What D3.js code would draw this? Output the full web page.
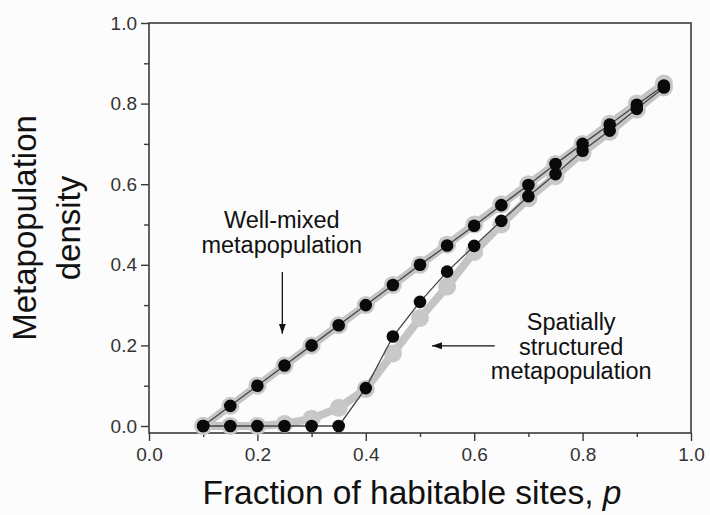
<!DOCTYPE html>
<html>
<head>
<meta charset="utf-8">
<script src="https://cdn.jsdelivr.net/npm/d3@7"></script>
<style>
  html, body { margin: 0; padding: 0; background: #fcfcfc; }
  svg { display: block; }
  text { font-family: "Liberation Sans", Arial, Helvetica, sans-serif; }
</style>
</head>
<body>
<svg id="chart" width="710" height="515"></svg>
<script>
// ---- data ----
const fraction = [0.10, 0.15, 0.20, 0.25, 0.30, 0.35, 0.40, 0.45, 0.50, 0.55, 0.60, 0.65, 0.70, 0.75, 0.80, 0.85, 0.90, 0.95];
const wellMixedSim   = [0.00, 0.05, 0.10, 0.15, 0.20, 0.25, 0.30, 0.35, 0.40, 0.448, 0.497, 0.548, 0.598, 0.650, 0.700, 0.748, 0.797, 0.845];
const wellMixedModel = [0.00, 0.05, 0.10, 0.15, 0.20, 0.25, 0.30, 0.35, 0.40, 0.45, 0.50, 0.55, 0.60, 0.65, 0.70, 0.75, 0.80, 0.85];
const spatialSim     = [0.00, 0.00, 0.00, 0.00, 0.00, 0.00, 0.094, 0.222, 0.308, 0.383, 0.447, 0.509, 0.570, 0.625, 0.683, 0.733, 0.787, 0.840];
const spatialModel   = [0.00, 0.00, 0.00, 0.005, 0.018, 0.045, 0.092, 0.180, 0.268, 0.346, 0.432, 0.500, 0.565, 0.620, 0.678, 0.730, 0.785, 0.840];
const xTicks = [0.0, 0.2, 0.4, 0.6, 0.8, 1.0];
const yTicks = [0.0, 0.2, 0.4, 0.6, 0.8, 1.0];
const xMinor = [0.1, 0.3, 0.5, 0.7, 0.9];
const yMinor = [0.1, 0.3, 0.5, 0.7, 0.9];
const xTitle = "Fraction of habitable sites, ";
const xTitleVar = "p";
const yTitleLines = ["Metapopulation", "density"];
const wellLabel = ["Well-mixed", "metapopulation"];
const spatialLabel = ["Spatially", "structured", "metapopulation"];

// ---- layout ----
const svg = d3.select("#chart");
const mLeft = 149, mRight = 691, mTop = 23, mBottom = 433;
const x = d3.scaleLinear().domain([0, 1]).range([mLeft, mRight]);
const y = d3.scaleLinear().domain([-0.0174, 1]).range([mBottom, mTop]);

const frameColor = "#3a3a3a";
const tickColor = "#333";

// frame
svg.append("rect")
  .attr("x", mLeft).attr("y", mTop)
  .attr("width", mRight - mLeft).attr("height", mBottom - mTop)
  .attr("fill", "none").attr("stroke", frameColor).attr("stroke-width", 1.6);

// axes (major)
const xAxis = svg.append("g").attr("transform", `translate(0,${mBottom})`)
  .call(d3.axisBottom(x).tickValues(xTicks).tickFormat(d3.format(".1f")).tickSize(8).tickPadding(7));
const yAxis = svg.append("g").attr("transform", `translate(${mLeft},0)`)
  .call(d3.axisLeft(y).tickValues(yTicks).tickFormat(d3.format(".1f")).tickSize(8).tickPadding(4));
// minor
const xAxisMinor = svg.append("g").attr("transform", `translate(0,${mBottom})`)
  .call(d3.axisBottom(x).tickValues(xMinor).tickFormat("").tickSize(4));
const yAxisMinor = svg.append("g").attr("transform", `translate(${mLeft},0)`)
  .call(d3.axisLeft(y).tickValues(yMinor).tickFormat("").tickSize(5));

[xAxis, yAxis, xAxisMinor, yAxisMinor].forEach(g => {
  g.select(".domain").remove();
  g.selectAll(".tick line").attr("stroke", frameColor).attr("stroke-width", 1.4);
  g.selectAll(".tick text").attr("fill", tickColor).attr("font-size", 19)
    .attr("font-family", "Liberation Sans, Arial, sans-serif");
});

// ---- series ----
const line = d3.line().x(d => x(d[0])).y(d => y(d[1]));
const zip = vals => fraction.map((f, i) => [f, vals[i]]);

const models = [wellMixedModel, spatialModel];
const sims = [wellMixedSim, spatialSim];

// gray model curves (thick) with halos
models.forEach(vals => {
  svg.append("path").datum(zip(vals))
    .attr("d", line).attr("fill", "none")
    .attr("stroke", "#c4c4c4").attr("stroke-width", 8)
    .attr("stroke-linejoin", "round").attr("stroke-linecap", "round");
});
models.forEach(vals => {
  svg.append("g").selectAll("circle").data(zip(vals)).join("circle")
    .attr("cx", d => x(d[0])).attr("cy", d => y(d[1])).attr("r", 9)
    .attr("fill", "#c8c8c8");
});
// simulation curves (thin dark) with black points
sims.forEach(vals => {
  svg.append("path").datum(zip(vals))
    .attr("d", line).attr("fill", "none")
    .attr("stroke", "#444").attr("stroke-width", 1.3);
});
sims.forEach(vals => {
  svg.append("g").selectAll("circle").data(zip(vals)).join("circle")
    .attr("cx", d => x(d[0])).attr("cy", d => y(d[1])).attr("r", 6.3)
    .attr("fill", "#0a0a0a");
});

// ---- annotations ----
svg.append("defs").append("marker")
  .attr("id", "ah").attr("viewBox", "0 0 10 10").attr("refX", 10).attr("refY", 5)
  .attr("markerWidth", 10).attr("markerHeight", 10).attr("markerUnits", "userSpaceOnUse")
  .attr("orient", "auto")
  .append("path").attr("d", "M0,1.5 L10,5 L0,8.5 Z").attr("fill", "#111");

const annFont = 23.5;
const wl = svg.append("text").attr("text-anchor", "middle").attr("font-size", annFont).attr("fill", "#111");
wellLabel.forEach((t, i) => wl.append("tspan").attr("x", x(0.245)).attr("y", y(0.491) + i * 24.5).text(t));
svg.append("line")
  .attr("x1", x(0.246)).attr("y1", y(0.382)).attr("x2", x(0.246)).attr("y2", y(0.229))
  .attr("stroke", "#111").attr("stroke-width", 1.3).attr("marker-end", "url(#ah)");

const sl = svg.append("text").attr("text-anchor", "middle").attr("font-size", annFont).attr("fill", "#111");
spatialLabel.forEach((t, i) => sl.append("tspan").attr("x", x(0.779)).attr("y", y(0.238) + i * 24.5).text(t));
svg.append("line")
  .attr("x1", x(0.638)).attr("y1", y(0.199)).attr("x2", x(0.522)).attr("y2", y(0.199))
  .attr("stroke", "#111").attr("stroke-width", 1.3).attr("marker-end", "url(#ah)");

// ---- axis titles ----
const xt = svg.append("text").attr("x", 412).attr("y", 504)
  .attr("text-anchor", "middle").attr("font-size", 33.5).attr("fill", "#111");
xt.append("tspan").text(xTitle);
xt.append("tspan").attr("font-style", "italic").text(xTitleVar);

const yt = svg.append("text")
  .attr("transform", `translate(0,${(mTop + mBottom) / 2}) rotate(-90)`)
  .attr("text-anchor", "middle").attr("font-size", 33).attr("fill", "#111");
yt.append("tspan").attr("x", 0).attr("y", 36).text(yTitleLines[0]);
yt.append("tspan").attr("x", 0).attr("y", 80).text(yTitleLines[1]);
</script>
</body>
</html>
